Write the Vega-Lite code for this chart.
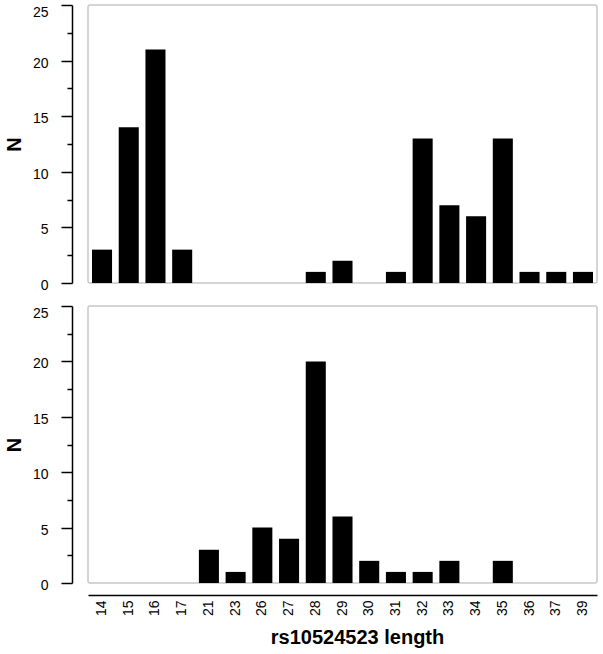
{
  "$schema": "https://vega.github.io/schema/vega-lite/v6.json",
  "padding": {"left": 3, "top": 3, "right": 3, "bottom": 3},
  "config": {
    "font": "Liberation Sans",
    "view": {"stroke": "#c8c8c8", "strokeWidth": 1.5, "cornerRadius": 2}
  },
  "spacing": 10,
  "data": {
    "values": [
      {"len": "14", "n": 3, "g": "a"}, {"len": "15", "n": 14, "g": "a"}, {"len": "16", "n": 21, "g": "a"}, {"len": "17", "n": 3, "g": "a"},
      {"len": "21", "n": 0, "g": "a"}, {"len": "23", "n": 0, "g": "a"}, {"len": "26", "n": 0, "g": "a"}, {"len": "27", "n": 0, "g": "a"},
      {"len": "28", "n": 1, "g": "a"}, {"len": "29", "n": 2, "g": "a"}, {"len": "30", "n": 0, "g": "a"}, {"len": "31", "n": 1, "g": "a"},
      {"len": "32", "n": 13, "g": "a"}, {"len": "33", "n": 7, "g": "a"}, {"len": "34", "n": 6, "g": "a"}, {"len": "35", "n": 13, "g": "a"},
      {"len": "36", "n": 1, "g": "a"}, {"len": "37", "n": 1, "g": "a"}, {"len": "39", "n": 1, "g": "a"},
      {"len": "14", "n": 0, "g": "b"}, {"len": "15", "n": 0, "g": "b"}, {"len": "16", "n": 0, "g": "b"}, {"len": "17", "n": 0, "g": "b"},
      {"len": "21", "n": 3, "g": "b"}, {"len": "23", "n": 1, "g": "b"}, {"len": "26", "n": 5, "g": "b"}, {"len": "27", "n": 4, "g": "b"},
      {"len": "28", "n": 20, "g": "b"}, {"len": "29", "n": 6, "g": "b"}, {"len": "30", "n": 2, "g": "b"}, {"len": "31", "n": 1, "g": "b"},
      {"len": "32", "n": 1, "g": "b"}, {"len": "33", "n": 2, "g": "b"}, {"len": "34", "n": 0, "g": "b"}, {"len": "35", "n": 2, "g": "b"},
      {"len": "36", "n": 0, "g": "b"}, {"len": "37", "n": 0, "g": "b"}, {"len": "39", "n": 0, "g": "b"}
    ]
  },
  "vconcat": [
    {
      "width": 509,
      "height": 278,
      "transform": [{"filter": "datum.g == 'a'"}],
      "layer": [
        {
          "mark": {"type": "bar", "color": "#000000"},
          "encoding": {
            "x": {
              "field": "len", "type": "ordinal",
              "scale": {"domain": ["14","15","16","17","21","23","26","27","28","29","30","31","32","33","34","35","36","37","39"], "paddingInner": 0.25, "paddingOuter": 0.15},
              "axis": null
            },
            "y": {
              "field": "n", "type": "quantitative",
              "scale": {"domain": [0, 25], "nice": false},
              "axis": {
                "title": "N", "orient": "left", "offset": 16, "values": [0, 5, 10, 15, 20, 25], "grid": false,
                "domainColor": "#000000", "domainWidth": 1.5, "tickColor": "#000000", "tickWidth": 1.5, "tickSize": 11,
                "labelPadding": 13, "labelFontSize": 14, "labelColor": "#000000",
                "labelOffset": {"condition": {"test": "datum.value == 25", "value": 7}, "value": 2.5},
                "titleFontSize": 20, "titleFontWeight": "bold", "titlePadding": 8, "titleColor": "#000000"
              }
            }
          }
        },
        {
          "mark": {"type": "bar", "opacity": 0},
          "encoding": {
            "x": {"field": "len", "type": "ordinal", "axis": null},
            "y": {
              "field": "n", "type": "quantitative",
              "axis": {
                "orient": "left", "offset": 16, "values": [2.5, 7.5, 12.5, 17.5, 22.5], "grid": false,
                "domain": false, "labels": false, "title": null,
                "tickColor": "#000000", "tickWidth": 1.5, "tickSize": 5
              }
            }
          }
        }
      ],
      "resolve": {"axis": {"y": "independent"}}
    },
    {
      "width": 509,
      "height": 277,
      "transform": [{"filter": "datum.g == 'b'"}],
      "layer": [
        {
          "mark": {"type": "bar", "color": "#000000"},
          "encoding": {
            "x": {
              "field": "len", "type": "ordinal",
              "scale": {"domain": ["14","15","16","17","21","23","26","27","28","29","30","31","32","33","34","35","36","37","39"], "paddingInner": 0.25, "paddingOuter": 0.15},
              "axis": {
                "title": "rs10524523 length", "orient": "bottom", "offset": 12, "ticks": false,
                "domainColor": "#000000", "domainWidth": 1.5, "labelAngle": 270, "labelPadding": 5,
                "labelFontSize": 14, "labelColor": "#000000",
                "titleFontSize": 20, "titleFontWeight": "bold", "titlePadding": 12, "titleColor": "#000000",
                "titleX": 269
              }
            },
            "y": {
              "field": "n", "type": "quantitative",
              "scale": {"domain": [0, 25], "nice": false},
              "axis": {
                "title": "N", "orient": "left", "offset": 16, "values": [0, 5, 10, 15, 20, 25], "grid": false,
                "domainColor": "#000000", "domainWidth": 1.5, "tickColor": "#000000", "tickWidth": 1.5, "tickSize": 11,
                "labelPadding": 13, "labelFontSize": 14, "labelColor": "#000000",
                "labelOffset": {"condition": {"test": "datum.value == 25", "value": 7}, "value": 2.5},
                "titleFontSize": 20, "titleFontWeight": "bold", "titlePadding": 8, "titleColor": "#000000"
              }
            }
          }
        },
        {
          "mark": {"type": "bar", "opacity": 0},
          "encoding": {
            "x": {"field": "len", "type": "ordinal"},
            "y": {
              "field": "n", "type": "quantitative",
              "axis": {
                "orient": "left", "offset": 16, "values": [2.5, 7.5, 12.5, 17.5, 22.5], "grid": false,
                "domain": false, "labels": false, "title": null,
                "tickColor": "#000000", "tickWidth": 1.5, "tickSize": 5
              }
            }
          }
        }
      ],
      "resolve": {"axis": {"y": "independent"}}
    }
  ]
}
